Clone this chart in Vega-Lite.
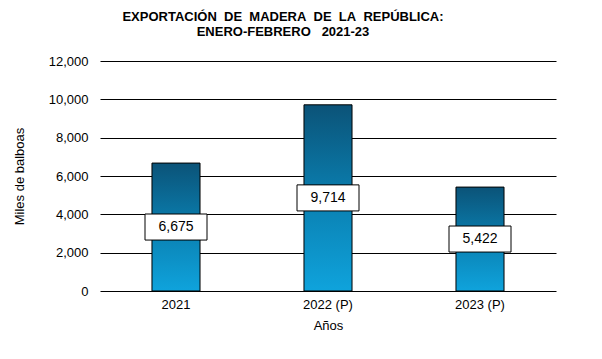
{
  "$schema": "https://vega.github.io/schema/vega-lite/v6.json",
  "autosize": "none",
  "width": 456,
  "height": 230,
  "padding": {"left": 100, "top": 61, "right": 46, "bottom": 68},
  "background": "white",
  "config": {
    "view": {"stroke": null},
    "font": "Liberation Sans",
    "axisY": {
      "title": "Miles de balboas",
      "values": [0, 2000, 4000, 6000, 8000, 10000, 12000],
      "format": ",d",
      "labelOverlap": false,
      "domain": false,
      "ticks": false,
      "grid": true,
      "gridColor": "black",
      "gridOpacity": 1,
      "gridWidth": 1,
      "labelFontSize": 13,
      "labelColor": "black",
      "labelPadding": 12,
      "titleFontSize": 13,
      "titleFontWeight": "normal",
      "titleColor": "black",
      "titlePadding": 22
    }
  },
  "title": {
    "text": ["EXPORTACIÓN\u00a0 DE\u00a0 MADERA\u00a0 DE\u00a0 LA\u00a0 REPÚBLICA:", "ENERO-FEBRERO\u00a0\u00a0 2021-23"],
    "fontSize": 13,
    "fontWeight": "bold",
    "font": "Liberation Sans",
    "color": "black",
    "anchor": "middle",
    "dx": -45,
    "offset": 16,
    "lineHeight": 15
  },
  "data": {
    "values": [
      {"anio": "2021", "valor": 6675},
      {"anio": "2022 (P)", "valor": 9714},
      {"anio": "2023 (P)", "valor": 5422}
    ]
  },
  "transform": [{"calculate": "datum.valor / 2", "as": "medio"}],
  "encoding": {
    "x": {
      "field": "anio",
      "type": "nominal",
      "sort": null,
      "scale": {"paddingInner": 0.684, "paddingOuter": 0.342},
      "axis": {
        "title": "Años",
        "labelAngle": 0,
        "domain": false,
        "ticks": false,
        "labelFontSize": 13,
        "labelColor": "black",
        "labelPadding": 7,
        "titleFontSize": 13,
        "titleFontWeight": "normal",
        "titleColor": "black",
        "titlePadding": 8
      }
    }
  },
  "layer": [
    {
      "mark": {
        "type": "bar",
        "stroke": "black",
        "strokeWidth": 1,
        "color": {
          "gradient": "linear",
          "x1": 0, "y1": 0, "x2": 0, "y2": 1,
          "stops": [
            {"offset": 0, "color": "#0b5378"},
            {"offset": 0.5, "color": "#0a7fb0"},
            {"offset": 1, "color": "#0fa3dc"}
          ]
        }
      },
      "encoding": {
        "y": {
          "field": "valor",
          "type": "quantitative",
          "title": "Miles de balboas",
          "scale": {"domain": [0, 12000], "nice": false}
        }
      }
    },
    {
      "mark": {
        "type": "point",
        "shape": "M-1,-0.42H1V0.42H-1Z",
        "size": 3844,
        "filled": true,
        "fill": "white",
        "stroke": "black",
        "strokeWidth": 1,
        "strokeJoin": "miter",
        "opacity": 1
      },
      "encoding": {
        "y": {"field": "medio", "type": "quantitative", "title": "Miles de balboas"}
      }
    },
    {
      "mark": {"type": "text", "fontSize": 14, "color": "black"},
      "encoding": {
        "y": {"field": "medio", "type": "quantitative", "title": "Miles de balboas"},
        "text": {"field": "valor", "type": "quantitative", "format": ",d"}
      }
    }
  ]
}
